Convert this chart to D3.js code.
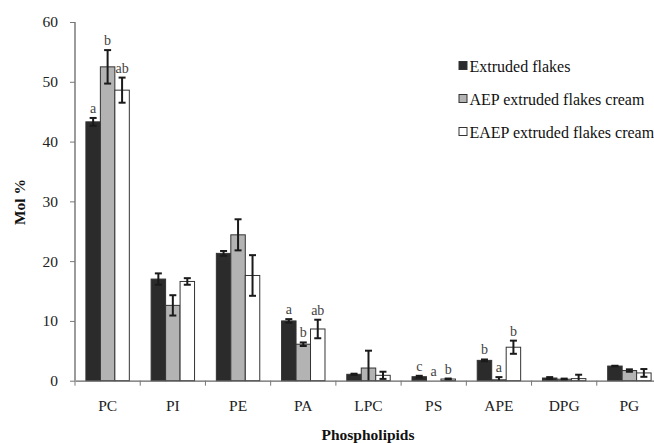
<!DOCTYPE html>
<html><head><meta charset="utf-8">
<script src="https://cdn.jsdelivr.net/npm/d3@7/dist/d3.min.js"></script>
<style>body{margin:0;background:#fff;}svg{display:block;}svg text{font-family:"Liberation Serif","Times New Roman",Times,serif !important;}</style>
</head><body><svg id="c" width="654" height="443"></svg>
<script>
const categories = ["PC","PI","PE","PA","LPC","PS","APE","DPG","PG"];
const seriesNames = ["Extruded flakes","AEP extruded flakes cream","EAEP extruded flakes cream"];
const extruded = [43.3, 17.0, 21.3, 10.0, 1.07, 0.67, 3.4, 0.45, 2.45];
const extrudedErr = [0.65, 0.95, 0.4, 0.3, 0.1, 0.15, 0.15, 0.15, 0.05];
const aep = [52.5, 12.6, 24.4, 6.1, 2.12, 0, 0.15, 0.25, 1.7];
const aepErr = [2.8, 1.7, 2.6, 0.3, 2.9, 0, 0.45, 0.1, 0.2];
const eaep = [48.6, 16.6, 17.6, 8.65, 0.9, 0.28, 5.6, 0.35, 1.3];
const eaepErr = [2.1, 0.55, 3.4, 1.55, 0.6, 0.08, 1.1, 0.65, 0.65];
const extrudedLetters = ["a","","","a","","c","b","",""];
const aepLetters = ["b","","","b","","a","a","",""];
const eaepLetters = ["ab","","","ab","","b","b","",""];
const yTicks = [0,10,20,30,40,50,60];

const fills = ["#2b2b2b","#b3b3b3","#ffffff"];
const series = [
  {name: seriesNames[0], vals: extruded, errs: extrudedErr, letters: extrudedLetters},
  {name: seriesNames[1], vals: aep, errs: aepErr, letters: aepLetters},
  {name: seriesNames[2], vals: eaep, errs: eaepErr, letters: eaepLetters}
];

const svg = d3.select("#c");
const x = d3.scaleBand().domain(categories).range([75, 662]).paddingInner(0).paddingOuter(0);
const inner = d3.scaleBand().domain([0,1,2]).range([10.9, x.bandwidth()-10.9]).paddingInner(0).paddingOuter(0);
const y = d3.scaleLinear().domain([0,60]).range([380.7, 22]);

// bars
series.forEach((s, si) => {
  const g = svg.append("g");
  g.selectAll("rect").data(categories).enter().append("rect")
    .attr("x", c => x(c) + inner(si))
    .attr("y", (c,i) => y(s.vals[i]))
    .attr("width", inner.bandwidth())
    .attr("height", (c,i) => y(0) - y(s.vals[i]))
    .attr("fill", fills[si])
    .attr("stroke", "#333").attr("stroke-width", 1);
});

// error bars
series.forEach((s, si) => {
  const g = svg.append("g").attr("stroke", "#1a1a1a").attr("stroke-width", 2);
  categories.forEach((c, i) => {
    if (s.errs[i] <= 0) return;
    const cx = x(c) + inner(si) + inner.bandwidth()/2;
    const top = y(s.vals[i] + s.errs[i]);
    const bot = y(Math.max(0, s.vals[i] - s.errs[i]));
    g.append("line").attr("x1", cx).attr("x2", cx).attr("y1", top).attr("y2", bot);
    g.append("line").attr("x1", cx-3.5).attr("x2", cx+3.5).attr("y1", top).attr("y2", top);
    if (s.vals[i] - s.errs[i] > 0)
      g.append("line").attr("x1", cx-3.5).attr("x2", cx+3.5).attr("y1", bot).attr("y2", bot);
  });
});

// letters
series.forEach((s, si) => {
  categories.forEach((c, i) => {
    if (!s.letters[i]) return;
    const cx = x(c) + inner(si) + inner.bandwidth()/2;
    svg.append("text").attr("x", cx).attr("y", y(s.vals[i] + s.errs[i]) - 5)
      .attr("text-anchor", "middle").attr("font-size", 14).attr("fill", "#444")
      .text(s.letters[i]);
  });
});

// y axis
const yAxis = svg.append("g").attr("transform", "translate(75,0)")
  .call(d3.axisLeft(y).tickValues(yTicks).tickSize(5).tickPadding(12).tickFormat(d3.format("d")));
yAxis.select(".domain").attr("stroke", "#666").attr("stroke-width", 1.3).attr("d", `M0,${y(60)}V${y(0)}`);
yAxis.selectAll(".tick line").attr("stroke", "#777");
yAxis.selectAll(".tick text").attr("font-size", 15.5).attr("fill", "#222");

// x axis
const xAxis = svg.append("g").attr("transform", `translate(0,${y(0)})`)
  .call(d3.axisBottom(x).tickSize(0).tickPadding(19));
xAxis.select(".domain").attr("stroke", "#666").attr("stroke-width", 1.3);
xAxis.selectAll(".tick text").attr("font-size", 15.5).attr("fill", "#222");
const bounds = [...categories.map(c => x(c)), x.range()[1]];
xAxis.selectAll(".bt").data(bounds).enter().append("line").attr("class","bt")
  .attr("x1", d => d).attr("x2", d => d).attr("y1", 0).attr("y2", 5).attr("stroke", "#777");

// axis titles
svg.append("text").attr("x", 368).attr("y", 440).attr("text-anchor", "middle")
  .attr("font-size", 15.5).attr("font-weight", "bold").attr("fill", "#111").text("Phospholipids");
svg.append("text").attr("transform", "translate(25,202) rotate(-90)").attr("text-anchor", "middle")
  .attr("font-size", 15.5).attr("font-weight", "bold").attr("fill", "#111").text("Mol %");

// legend
const leg = svg.append("g");
const legY = [66, 99, 132];
series.forEach((s, si) => {
  leg.append("rect").attr("x", 459).attr("y", legY[si]-4.5).attr("width", 8).attr("height", 8)
    .attr("fill", fills[si]).attr("stroke", "#333").attr("stroke-width", 1);
  leg.append("text").attr("x", 469.5).attr("y", legY[si]+5.5).attr("font-size", 16).attr("fill", "#111")
    .text(s.name);
});
</script></body></html>
